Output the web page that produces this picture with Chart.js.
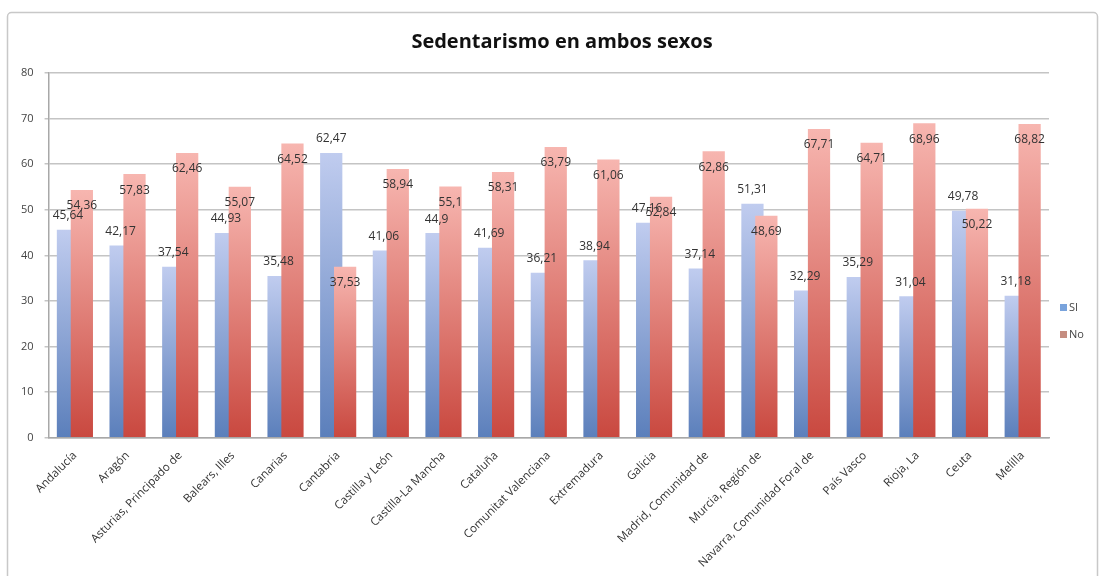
<!DOCTYPE html>
<html>
<head>
<meta charset="utf-8">
<title>Sedentarismo en ambos sexos</title>
<script src="https://cdn.jsdelivr.net/npm/chart.js@4.4.0/dist/chart.umd.min.js"></script>
<style>
  html, body { margin: 0; padding: 0; background: #fff; }
  canvas { display: block; }
</style>
</head>
<body>
<canvas id="chart" width="1105" height="576"></canvas>
<script>
// datos
const regiones = [
    'Andalucía', 'Aragón', 'Asturias, Principado de', 'Balears, Illes', 'Canarias',
    'Cantabria', 'Castilla y León', 'Castilla-La Mancha', 'Cataluña', 'Comunitat Valenciana',
    'Extremadura', 'Galicia', 'Madrid, Comunidad de', 'Murcia, Región de',
    'Navarra, Comunidad Foral de', 'País Vasco', 'Rioja, La', 'Ceuta', 'Melilla'
];
const valoresSI = [45.64, 42.17, 37.54, 44.93, 35.48, 62.47, 41.06, 44.9, 41.69, 36.21,
                   38.94, 47.16, 37.14, 51.31, 32.29, 35.29, 31.04, 49.78, 31.18];
const valoresNo = [54.36, 57.83, 62.46, 55.07, 64.52, 37.53, 58.94, 55.1, 58.31, 63.79,
                   61.06, 52.84, 62.86, 48.69, 67.71, 64.71, 68.96, 50.22, 68.82];
const series = ['SI', 'No'];
const yMin = 0, yMax = 80, yStep = 10;
const titulo = 'Sedentarismo en ambos sexos';

const FONT = '"Open Sans", "DejaVu Sans", sans-serif';

// degradado vertical de cada barra (claro arriba, oscuro abajo)
function degradado(arriba, abajo) {
    return (c) => {
        const chart = c.chart;
        if (!chart.chartArea || c.type !== 'data' || !c.parsed) return abajo;
        const y = chart.scales.y;
        const y0 = y.getPixelForValue(c.parsed.y);
        const y1 = y.getPixelForValue(0);
        if (!isFinite(y0) || !isFinite(y1) || y0 === y1) return abajo;
        const g = chart.ctx.createLinearGradient(0, y0, 0, y1);
        g.addColorStop(0, arriba);
        g.addColorStop(1, abajo);
        return g;
    };
}

// la serie "No" se pinta encima de "SI" (como en Excel)
const noEncima = {
    id: 'noEncima',
    beforeDatasetDraw(chart, args) {
        if (args.index === 1) return false;
    },
    afterDatasetsDraw(chart) {
        const meta = chart.getDatasetMeta(1);
        if (meta.hidden) return;
        const { ctx, chartArea: a } = chart;
        ctx.save();
        ctx.beginPath();
        ctx.rect(a.left, a.top, a.right - a.left, a.bottom - a.top);
        ctx.clip();
        meta.controller.draw();
        ctx.restore();
    }
};

// etiquetas de valor con coma decimal
const etiquetas = {
    id: 'etiquetas',
    afterDatasetsDraw(chart) {
        const ctx = chart.ctx;
        ctx.save();
        ctx.font = '12px ' + FONT;
        ctx.fillStyle = '#333333';
        ctx.textAlign = 'center';
        ctx.textBaseline = 'middle';
        chart.data.datasets.forEach((ds, di) => {
            const meta = chart.getDatasetMeta(di);
            meta.data.forEach((bar, i) => {
                const txt = String(ds.data[i]).replace('.', ',');
                const dy = di === 0 ? -14 : 16;
                ctx.fillText(txt, bar.x, bar.y + dy);
            });
        });
        ctx.restore();
    }
};

// marco, titulo y leyenda
const marcoTituloLeyenda = {
    id: 'marcoTituloLeyenda',
    beforeDraw(chart) {
        const ctx = chart.ctx;
        ctx.save();
        ctx.strokeStyle = '#c8c8c8';
        ctx.lineWidth = 1.5;
        ctx.beginPath();
        ctx.roundRect(7.5, 12.5, 1090, 600, 4);
        ctx.stroke();
        ctx.restore();
    },
    afterDraw(chart) {
        const ctx = chart.ctx;
        const a = chart.chartArea;
        ctx.save();
        ctx.fillStyle = '#111111';
        ctx.font = 'bold 20px ' + FONT;
        ctx.textAlign = 'center';
        ctx.textBaseline = 'middle';
        ctx.fillText(titulo, 562, a.top - 31);

        const colores = ['#79a3dc', '#c58d80'];
        ctx.font = '11px ' + FONT;
        ctx.textAlign = 'left';
        series.forEach((nombre, i) => {
            const y = 308 + i * 27;
            ctx.fillStyle = colores[i];
            ctx.fillRect(a.right + 11, y - 4, 7, 7);
            ctx.fillStyle = '#444444';
            ctx.fillText(nombre, a.right + 20, y);
        });
        ctx.restore();
    }
};

const ctx = document.getElementById('chart').getContext('2d');
window.chartInstance = new Chart(ctx, {
    type: 'bar',
    data: {
        labels: regiones,
        datasets: [{
            label: series[0],
            data: valoresSI,
            backgroundColor: degradado('#c0ccef', '#5b7fbb')
        }, {
            label: series[1],
            data: valoresNo,
            backgroundColor: degradado('#f7b6b0', '#c9483f')
        }]
    },
    options: {
        responsive: false,
        animation: false,
        categoryPercentage: 0.528,
        barPercentage: 1.6,
        layout: { padding: { top: 73, right: 56, bottom: 3, left: 10 } },
        plugins: {
            legend: { display: false },
            title: { display: false },
            tooltip: { enabled: false }
        },
        scales: {
            x: {
                grid: { display: false },
                border: { display: true, color: '#a8a8a8', width: 1.5 },
                ticks: {
                    autoSkip: false,
                    maxRotation: 45,
                    minRotation: 45,
                    color: '#333333',
                    font: { family: FONT, size: 11.5 }
                }
            },
            y: {
                min: yMin,
                max: yMax,
                ticks: {
                    stepSize: yStep,
                    padding: 11,
                    color: '#444444',
                    font: { family: FONT, size: 11 }
                },
                grid: { color: '#c4c4c4', lineWidth: 1.5, tickLength: 4 },
                border: { display: true, color: '#a8a8a8', width: 1.5 }
            }
        }
    },
    plugins: [noEncima, etiquetas, marcoTituloLeyenda]
});
</script>
</body>
</html>
